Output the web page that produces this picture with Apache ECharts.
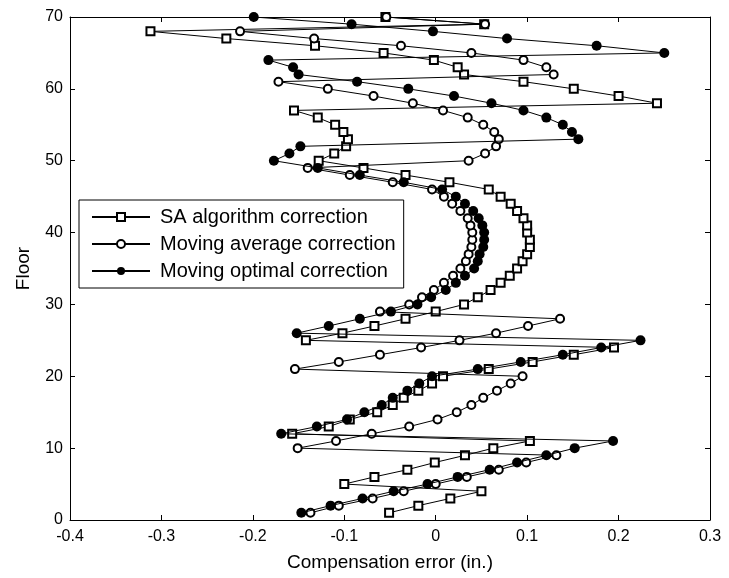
<!DOCTYPE html>
<html>
<head>
<meta charset="utf-8">
<script src="https://cdn.jsdelivr.net/npm/echarts@6/dist/echarts.min.js"></script>
<style>
html,body{margin:0;padding:0;background:#fff;}
#chart{width:729px;height:578px;}
</style>
</head>
<body>
<div id="chart"></div>
<script>
const floors = [1,2,3,4,5,6,7,8,9,10,11,12,13,14,15,16,17,18,19,20,
21,22,23,24,25,26,27,28,29,30,31,32,33,34,35,36,37,38,39,40,
41,42,43,44,45,46,47,48,49,50,51,52,53,54,55,56,57,58,59,60,
61,62,63,64,65,66,67,68,69,70];

const saValues = [-0.051,-0.019,0.016,0.050,-0.100,-0.067,-0.031,-0.001,0.032,0.063,
0.103,-0.157,-0.117,-0.094,-0.064,-0.047,-0.035,-0.019,-0.004,0.008,
0.058,0.106,0.151,0.195,-0.142,-0.102,-0.067,-0.033,0.000,0.031,
0.046,0.060,0.071,0.081,0.089,0.095,0.100,0.103,0.103,0.100,
0.100,0.096,0.089,0.082,0.071,0.058,0.015,-0.033,-0.079,-0.128,
-0.111,-0.098,-0.096,-0.101,-0.110,-0.129,-0.155,0.242,0.200,0.151,
0.096,0.031,0.024,-0.002,-0.057,-0.132,-0.229,-0.312,0.053,-0.055];

const maValues = [-0.137,-0.106,-0.069,-0.035,0.000,0.034,0.069,0.099,0.132,-0.151,
-0.109,-0.070,-0.029,0.002,0.023,0.039,0.052,0.067,0.082,0.095,
-0.154,-0.106,-0.061,-0.016,0.026,0.066,0.101,0.136,-0.061,-0.029,
-0.015,-0.002,0.009,0.019,0.027,0.033,0.036,0.039,0.040,0.040,
0.038,0.035,0.027,0.018,0.009,-0.004,-0.047,-0.094,-0.140,0.036,
0.054,0.066,0.069,0.064,0.052,0.035,0.008,-0.025,-0.068,-0.118,
-0.172,0.129,0.121,0.096,0.039,-0.038,-0.133,-0.214,0.054,-0.054];

const moValues = [-0.147,-0.115,-0.080,-0.046,-0.009,0.024,0.059,0.089,0.121,0.152,
0.194,-0.169,-0.130,-0.097,-0.078,-0.059,-0.047,-0.031,-0.018,-0.004,
0.046,0.093,0.139,0.181,0.224,-0.152,-0.117,-0.083,-0.049,-0.020,
-0.005,0.011,0.022,0.032,0.042,0.046,0.048,0.052,0.053,0.053,
0.051,0.047,0.041,0.032,0.022,0.007,-0.035,-0.083,-0.129,-0.177,
-0.160,-0.148,0.156,0.149,0.139,0.121,0.096,0.061,0.020,-0.030,
-0.086,-0.150,-0.156,-0.183,0.250,0.176,0.078,-0.003,-0.092,-0.199];

const seriesNames = ['SA algorithm correction','Moving average correction','Moving optimal correction'];
const xTicks = [-0.4,-0.3,-0.2,-0.1,0,0.1,0.2,0.3];
const yTicks = [0,10,20,30,40,50,60,70];

const FONT = '"Liberation Sans", Arial, Helvetica, sans-serif';

function pairs(vals){ return vals.map((v,i)=>[v, floors[i]]); }

const chart = echarts.init(document.getElementById('chart'), null, {renderer:'canvas'});

const axisCommon = {
  axisLine:{show:true, onZero:false, lineStyle:{color:'#000', width:1}},
  axisTick:{show:true, inside:true, length:5, lineStyle:{color:'#000', width:1}},
  splitLine:{show:false}
};

function fmtX(v){ let r = Math.round(v*10)/10; if (Object.is(r,-0)) r = 0; return String(r); }

chart.setOption({
  animation:false,
  backgroundColor:'#fff',
  textStyle:{fontFamily:FONT},
  grid:{left:70, right:19, top:17, bottom:58, containLabel:false},
  xAxis:[
    Object.assign({type:'value', position:'bottom', min:xTicks[0], max:xTicks[xTicks.length-1], interval:0.1,
      name:'Compensation error (in.)', nameLocation:'middle', nameGap:33,
      nameTextStyle:{color:'#000', fontSize:19, fontFamily:FONT},
      axisLabel:{color:'#000', fontSize:16, margin:9, fontFamily:FONT, formatter:fmtX}}, axisCommon),
    Object.assign({type:'value', position:'top', min:xTicks[0], max:xTicks[xTicks.length-1], interval:0.1,
      axisLabel:{show:false}}, axisCommon)
  ],
  yAxis:[
    Object.assign({type:'value', position:'left', min:yTicks[0], max:yTicks[yTicks.length-1], interval:10,
      name:'Floor', nameLocation:'middle', nameGap:37,
      nameTextStyle:{color:'#000', fontSize:19, fontFamily:FONT},
      axisLabel:{color:'#000', fontSize:16, margin:7, fontFamily:FONT}}, axisCommon),
    Object.assign({type:'value', position:'right', min:yTicks[0], max:yTicks[yTicks.length-1], interval:10,
      axisLabel:{show:false}}, axisCommon)
  ],
  legend:{
    orient:'vertical', left:79, top:200,
    backgroundColor:'#fff', borderColor:'#000', borderWidth:1,
    padding:[7,8,7,12],
    itemWidth:58, itemHeight:10, itemGap:7,
    textStyle:{color:'#000', fontSize:20, fontFamily:FONT, padding:[0,0,0,5]},
    data:seriesNames
  },
  series:[
    {name:seriesNames[0], type:'line', data:pairs(saValues), symbol:'emptyRect', symbolSize:8,
     lineStyle:{color:'#000', width:1}, itemStyle:{color:'#000', borderColor:'#000', borderWidth:1}, z:2},
    {name:seriesNames[1], type:'line', data:pairs(maValues), symbol:'emptyCircle', symbolSize:8,
     lineStyle:{color:'#000', width:1}, itemStyle:{color:'#000', borderColor:'#000', borderWidth:1}, z:3},
    {name:seriesNames[2], type:'line', data:pairs(moValues), symbol:'circle', symbolSize:10,
     lineStyle:{color:'#000', width:1}, itemStyle:{color:'#000'}, z:4}
  ]
});
</script>
</body>
</html>
